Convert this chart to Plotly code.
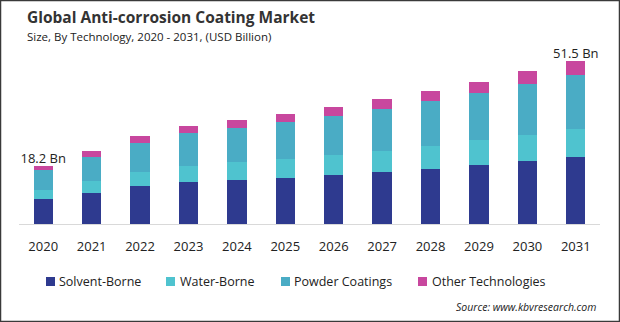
import plotly.graph_objects as go

# Market size by technology, USD billion
years = ["2020", "2021", "2022", "2023", "2024", "2025", "2026", "2027", "2028", "2029", "2030", "2031"]
solvent_borne = [7.9, 9.8, 12.0, 13.2, 13.9, 14.5, 15.5, 16.4, 17.4, 18.6, 19.9, 21.0]
water_borne = [2.9, 3.8, 4.4, 5.0, 5.8, 6.0, 6.3, 6.7, 7.3, 7.9, 8.3, 9.1]
powder_coatings = [6.1, 7.6, 9.1, 10.4, 10.6, 11.7, 12.3, 13.2, 14.2, 14.8, 16.0, 17.0]
other_technologies = [1.3, 1.9, 2.3, 2.3, 2.5, 2.6, 2.8, 3.2, 3.2, 3.5, 4.2, 4.4]

series_names = ["Solvent-Borne", "Water-Borne", "Powder Coatings", "Other Technologies"]
series_values = [solvent_borne, water_borne, powder_coatings, other_technologies]
colors = ["#2E3A8F", "#4FC3CF", "#4AACC5", "#C8479E"]

FONT = "Open Sans"
W, H = 620, 322
L, R, T, B = 19, 600, 50, 224  # plot area edges in pixels


def px(x):
    return (x - L) / (R - L)


def py(y):
    return (B - y) / (B - T)


fig = go.Figure()
for name, vals, col in zip(series_names, series_values, colors):
    fig.add_trace(go.Bar(x=years, y=vals, name=name, marker=dict(color=col, line=dict(width=0)),
                         width=0.4, showlegend=False))

totals = [round(sum(v), 1) for v in zip(*series_values)]

# value labels on first and last bars, placed via a text-only scatter on the data axes
label_idx = [0, len(years) - 1]
fig.add_trace(go.Scatter(
    x=[years[i] for i in label_idx], y=[totals[i] for i in label_idx],
    mode="text", text=[f"{totals[i]:.1f} Bn" for i in label_idx],
    textposition="top center", textfont=dict(family=FONT, size=13, color="#222222"),
    showlegend=False, hoverinfo="skip", cliponaxis=False))

annotations = []

# title and subtitle
annotations.append(dict(x=px(25), y=py(17), xref="paper", yref="paper", xanchor="left", yanchor="middle",
                        text="<b>Global Anti-corrosion Coating Market</b>", showarrow=False,
                        font=dict(family=FONT, size=15.5, color="#333333")))
annotations.append(dict(x=px(25), y=py(36), xref="paper", yref="paper", xanchor="left", yanchor="middle",
                        text="Size, By Technology, 2020 - 2031, (USD Billion)", showarrow=False,
                        font=dict(family=FONT, size=11.5, color="#222222")))

# legend drawn as swatches and labels
shapes = []
legend_sq = [46, 166, 281, 418]
legend_tx = [57, 178, 292, 430]
for name, col, sx, tx in zip(series_names, colors, legend_sq, legend_tx):
    shapes.append(dict(type="rect", xref="paper", yref="paper", x0=px(sx), x1=px(sx + 9),
                       y0=py(286), y1=py(277), fillcolor=col, line=dict(width=0)))
    annotations.append(dict(x=px(tx), y=py(281.5), xref="paper", yref="paper", xanchor="left",
                            yanchor="middle", text=name, showarrow=False,
                            font=dict(family=FONT, size=12.5, color="#222222")))

# source note
annotations.append(dict(x=px(598), y=py(307), xref="paper", yref="paper", xanchor="right", yanchor="middle",
                        text="<i>Source: www.kbvresearch.com</i>", showarrow=False,
                        font=dict(family=FONT, size=10.5, color="#222222")))

# outer frame
shapes.append(dict(type="rect", xref="paper", yref="paper", x0=px(0.5), x1=px(W - 0.5),
                   y0=py(H - 0.5), y1=py(0.5), line=dict(color="#3A3A3A", width=1.5),
                   fillcolor="rgba(0,0,0,0)"))

fig.update_layout(
    width=W, height=H, barmode="stack",
    margin=dict(l=L, r=W - R, t=T, b=H - B, pad=0),
    paper_bgcolor="white", plot_bgcolor="white",
    showlegend=False,
    annotations=annotations, shapes=shapes,
    xaxis=dict(type="category", range=[-0.5, 11.5], showline=True, linecolor="#D9D9D9", linewidth=1,
               ticks="", showgrid=False, zeroline=False, ticklabelstandoff=10,
               tickfont=dict(family=FONT, size=13, color="#222222")),
    yaxis=dict(range=[0, 54.9], visible=False, showgrid=False, zeroline=False),
)

fig.write_html("out.html")
